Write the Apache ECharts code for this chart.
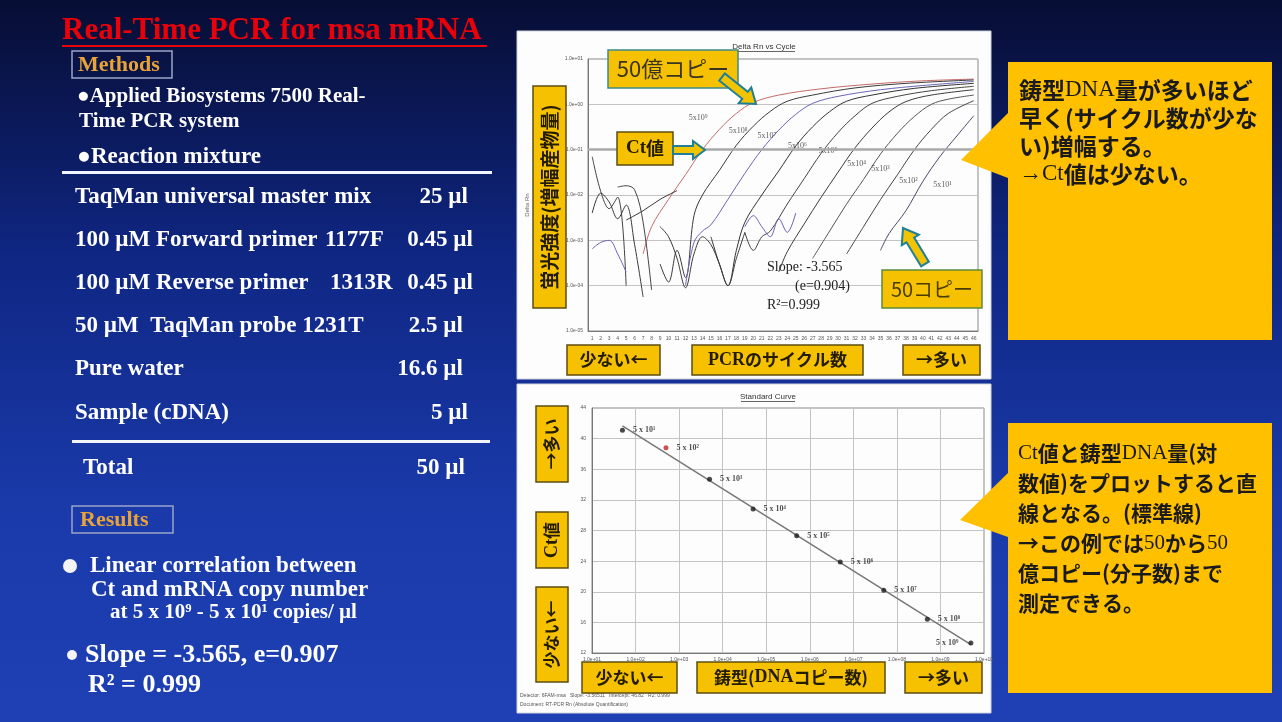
<!DOCTYPE html>
<html>
<head>
<meta charset="utf-8">
<script src="https://cdn.jsdelivr.net/npm/echarts@6/dist/echarts.min.js"></script>
<style>
html, body { margin: 0; padding: 0; background: #0b1240; }
#main { width: 1282px; height: 722px; }
</style>
</head>
<body>
<div id="main"></div>
<script>
// ---- amplification plot (Delta Rn vs Cycle) ----
var cycleLabels = [];
for (var i = 1; i <= 46; i++) cycleLabels.push(String(i));

var threshold = 0.1;
var yTickMin = 1e-5, yTickMax = 10;

// [cycle, delta Rn]
var curve5e9 = [[7,5e-4],[8,2.0e-3],[10,8.0e-3],[12,2.8e-2],[14,0.1],[16,0.28],[18,0.63],[20,1.1],[23,1.6],[28,2.2],[34,2.8],[40,3.3],[46,3.6]];
var curve5e8 = [[9,3e-4],[10,1.2e-4],[11,6e-4],[12,1.5e-4],[13,3.5e-3],[14,1e-2],[16,3.5e-2],[18,0.125],[20,0.33],[22,0.7],[24,1.17],[27,1.6],[32,2.3],[38,2.9],[46,3.45]];
var curve5e7 = [[12,1.0e-4],[13,9e-4],[14,1.6e-3],[15,2.2e-3],[17,8e-3],[19,3e-2],[21,0.1],[23,0.27],[25,0.6],[27,1.05],[30,1.5],[35,2.1],[40,2.6],[46,3.2]];
var curve5e6 = [[15,1.2e-3],[16,3e-4],[17,1e-4],[18,6e-4],[19,2.5e-3],[21,1e-2],[23,3.4e-2],[25,0.12],[27,0.32],[29,0.69],[31,1.17],[34,1.6],[39,2.25],[46,2.9]];
var curve5e5 = [[19,1.5e-3],[20,6e-4],[21,1.2e-3],[22,1.6e-3],[24,6.3e-3],[26,2.3e-2],[28,8.3e-2],[30,0.24],[32,0.56],[34,1.05],[37,1.5],[41,2.0],[46,2.5]];
var curve5e4 = [[23,2e-4],[24,5.6e-4],[26,2.3e-3],[28,8.9e-3],[30,3.2e-2],[32,0.11],[34,0.3],[36,0.68],[38,1.15],[41,1.6],[46,2.1]];
var curve5e3 = [[27,4e-4],[29,1.6e-3],[31,6.3e-3],[33,2.2e-2],[35,8e-2],[37,0.23],[39,0.54],[41,1.0],[43,1.3],[46,1.6]];
var curve5e2 = [[31,5e-4],[33,2e-3],[35,7.9e-3],[37,2.8e-2],[39,0.1],[41,0.28],[43,0.63],[46,1.2]];
var curve5e1 = [[35,6e-4],[36,1.4e-3],[38,4.5e-3],[40,2e-2],[42,7e-2],[44,0.2],[46,0.56]];
var noiseA = [[1,7e-2],[2,1.2e-2],[3,5e-3],[4,9e-3],[5,1e-4]];
var noiseB = [[1,6.5e-4],[2,9e-4],[3,1e-3],[4,5e-4],[5,2e-4]];
var noiseC = [[1,4e-3],[2,1.1e-2],[3,7e-3],[4,3e-3],[5,6e-3],[6,8e-4],[7,5.6e-5]];
var noiseD = [[5,2.8e-3],[7,4.5e-3],[9,8e-3],[11,1.25e-2]];
var noiseE = [[4,1.5e-2],[5,1.6e-2],[6,1.3e-2],[7,2.5e-3],[8,8e-5]];
var noiseF = [[9,2e-3],[10,1.2e-3],[11,4e-4],[12,9e-5],[13,5e-4],[14,1.2e-3],[15,8e-4],[16,3e-4],[17,1e-4],[18,4e-4],[19,1.5e-3]];
var noiseG = [[19,2e-3],[20,3.5e-3],[21,2e-3],[22,1.2e-3],[23,3e-3],[24,1.5e-3],[25,4e-3]];

var curves = [curve5e9, curve5e8, curve5e7, curve5e6, curve5e5, curve5e4, curve5e3, curve5e2, curve5e1, noiseA, noiseB, noiseC, noiseD, noiseE, noiseF, noiseG];
var curveColors = ['#c46a6a','#3a3a3a','#6a66b8','#333333','#444444','#3a3a3a','#555555','#444444','#4a4a6a','#444444','#6b62b5','#3a3a3a','#3a3a3a','#444444','#3a3a3a','#6b62b5'];

var copyLabels = ['5x10⁹','5x10⁸','5x10⁷','5x10⁶','5x10⁵','5x10⁴','5x10³','5x10²','5x10¹'];
var copyLabelPos = [[13.5,0.5],[18.2,0.26],[21.6,0.2],[25.2,0.12],[28.8,0.093],[32.2,0.048],[35.0,0.037],[38.3,0.02],[42.3,0.017]];

// ---- standard curve ----
var stdCopies = [5e1, 5e2, 5e3, 5e4, 5e5, 5e6, 5e7, 5e8, 5e9];
var stdCt = [41.1, 38.8, 34.7, 30.8, 27.3, 23.9, 20.2, 16.4, 13.3];
var stdLabels = ['5 x 10¹','5 x 10²','5 x 10³','5 x 10⁴','5 x 10⁵','5 x 10⁶','5 x 10⁷','5 x 10⁸','5 x 10⁹'];

// ---- slide texts ----
var reagentNames = ['TaqMan universal master mix','100 µM Forward primer','100 µM Reverse primer','50 µM  TaqMan probe 1231T','Pure water','Sample (cDNA)'];
var reagentCodes = ['','1177F','1313R','','',''];
var reagentVolumes = ['25 µl','0.45 µl','0.45 µl','2.5 µl','16.6 µl','5 µl'];

function expLabel(v) {
  var e = Math.round(Math.log(v) / Math.LN10);
  var a = Math.abs(e);
  return '1.0e' + (e < 0 ? '-' : '+') + (a < 10 ? '0' : '') + a;
}

// least squares of Ct on log10(copies)
var n = stdCopies.length, sx = 0, sy = 0, sxx = 0, sxy = 0;
for (var k = 0; k < n; k++) {
  var lx = Math.log(stdCopies[k]) / Math.LN10;
  sx += lx; sy += stdCt[k]; sxx += lx * lx; sxy += lx * stdCt[k];
}
var slope = (n * sxy - sx * sy) / (n * sxx - sx * sx);
var icpt = (sy - slope * sx) / n;
var fitLine = [stdCopies[0], stdCopies[n - 1]].map(function (c) {
  return [c, icpt + slope * Math.log(c) / Math.LN10];
});

var series = curves.map(function (c, idx) {
  var s = {
    type: 'line', xAxisIndex: 0, yAxisIndex: 0, data: c,
    smooth: 0.35, symbol: 'none', silent: true, z: 3,
    lineStyle: { width: 1, color: curveColors[idx] }
  };
  if (idx === 0) {
    s.markLine = {
      silent: true, symbol: 'none', label: { show: false },
      lineStyle: { color: '#a9a9a9', width: 2.5, type: 'solid' },
      data: [{ yAxis: threshold }]
    };
  }
  return s;
});

series.push({
  type: 'scatter', xAxisIndex: 0, yAxisIndex: 0, symbolSize: 0, silent: true, z: 4,
  data: copyLabelPos.map(function (p, i) { return { value: p, name: copyLabels[i] }; }),
  label: { show: true, position: 'inside', formatter: '{b}', fontSize: 8,
    fontFamily: 'Liberation Serif', color: '#333' }
});

series.push({
  type: 'line', xAxisIndex: 2, yAxisIndex: 1, data: fitLine, symbol: 'none', silent: true,
  lineStyle: { color: '#777', width: 1.5 }, z: 3
});

series.push({
  type: 'scatter', xAxisIndex: 2, yAxisIndex: 1, symbolSize: 5, silent: true, z: 4,
  data: stdCopies.map(function (c, i) {
    return {
      value: [c, stdCt[i]], name: stdLabels[i],
      itemStyle: { color: i === 1 ? '#c02828' : '#1a1a1a' },
      label: i === n - 1 ? { position: 'left', distance: 10 } : {}
    };
  }),
  label: { show: true, position: 'right', distance: 8, formatter: '{b}', fontSize: 8,
    fontFamily: 'Liberation Serif', fontWeight: 'bold', color: '#222' }
});

// ---- decorations ----
var SERIF = 'Liberation Serif';
var JP = 'Noto Sans CJK JP';
var YEL = '#f6c100';

function txt(x, y, s, size, o) {
  o = o || {};
  return {
    type: 'text', x: x, y: y, z: o.z || 50, rotation: o.rot || 0,
    style: {
      text: s, fill: o.fill || '#ffffff', fontSize: size,
      fontFamily: o.font || SERIF, fontWeight: o.weight || 'bold',
      align: o.align || 'left', verticalAlign: o.va || 'middle',
      rich: o.rich, lineHeight: o.lh
    }
  };
}
function box(x, y, w, h, s, size, o) {
  o = o || {};
  var els = [{
    type: 'rect', z: 60, shape: { x: x, y: y, width: w, height: h },
    style: { fill: YEL, stroke: o.stroke || '#5c4d10', lineWidth: 1.5 }
  }];
  els.push(txt(x + w / 2, y + h / 2, s, size, {
    z: 61, fill: o.fill || '#231c00', font: JP, weight: o.weight || 'bold',
    align: 'center', rot: o.rot, rich: o.rich
  }));
  return els;
}
function arrow(x1, y1, x2, y2, w, hw, hl) {
  var dx = x2 - x1, dy = y2 - y1, L = Math.sqrt(dx * dx + dy * dy);
  var ux = dx / L, uy = dy / L, px = -uy, py = ux;
  var bx = x2 - ux * hl, by = y2 - uy * hl;
  return {
    type: 'polygon', z: 62,
    shape: { points: [
      [x1 + px * w / 2, y1 + py * w / 2], [bx + px * w / 2, by + py * w / 2],
      [bx + px * hw / 2, by + py * hw / 2], [x2, y2],
      [bx - px * hw / 2, by - py * hw / 2], [bx - px * w / 2, by - py * w / 2],
      [x1 - px * w / 2, y1 - py * w / 2]] },
    style: { fill: '#f2c400', stroke: '#1f7f99', lineWidth: 2 }
  };
}
function serifRich(size) {
  return { l: { fontFamily: SERIF, fontWeight: 'bold', fontSize: size, fill: '#231c00' } };
}

var els = [];

// white panels
els.push({ type: 'rect', z: -10, shape: { x: 517, y: 31, width: 474, height: 348 },
  style: { fill: '#fdfdfd', stroke: '#cfd3dc', lineWidth: 1 } });
els.push({ type: 'rect', z: -10, shape: { x: 517, y: 384, width: 474, height: 329 },
  style: { fill: '#fdfdfd', stroke: '#cfd3dc', lineWidth: 1 } });

// left column
els.push(txt(62, 31, 'Real-Time PCR for msa mRNA', 31, { fill: '#e8000b' }));
els.push({ type: 'rect', z: 50, shape: { x: 62, y: 45, width: 425, height: 2 }, style: { fill: '#e8000b' } });
els.push({ type: 'rect', z: 50, shape: { x: 72, y: 51, width: 100, height: 27 },
  style: { fill: 'none', stroke: '#9aa4c8', lineWidth: 1.5 } });
els.push(txt(78, 65, 'Methods', 22, { fill: '#e8a23a' }));
els.push(txt(77, 97, '●Applied Biosystems 7500 Real-', 21));
els.push(txt(79, 122, 'Time PCR system', 21));
els.push(txt(77, 157, '●Reaction mixture', 23));
els.push({ type: 'rect', z: 50, shape: { x: 62, y: 171, width: 430, height: 3 }, style: { fill: '#f2f4ff' } });
var rowY = [197, 240, 283, 326, 369, 413];
var codeX = [0, 325, 330, 0, 0, 0];
var volX = [468, 473, 473, 463, 463, 468];
reagentNames.forEach(function (s, i) {
  els.push(txt(75, rowY[i], s, 23));
  if (reagentCodes[i]) els.push(txt(codeX[i], rowY[i], reagentCodes[i], 23));
  els.push(txt(volX[i], rowY[i], reagentVolumes[i], 23, { align: 'right' }));
});
els.push({ type: 'rect', z: 50, shape: { x: 72, y: 440, width: 418, height: 3 }, style: { fill: '#f2f4ff' } });
els.push(txt(83, 468, 'Total', 23));
els.push(txt(465, 468, '50 µl', 23, { align: 'right' }));
els.push({ type: 'rect', z: 50, shape: { x: 72, y: 506, width: 101, height: 27 },
  style: { fill: 'none', stroke: '#9aa4c8', lineWidth: 1.5 } });
els.push(txt(80, 520, 'Results', 22, { fill: '#e8a23a' }));
els.push({ type: 'circle', z: 50, shape: { cx: 70, cy: 566, r: 7 }, style: { fill: '#f4f4f4' } });
els.push(txt(90, 566, 'Linear correlation between', 23));
els.push(txt(91, 590, 'Ct and mRNA copy number', 23));
els.push(txt(110, 613, 'at 5 x 10⁹ - 5 x 10¹ copies/ µl', 21));
els.push({ type: 'circle', z: 50, shape: { cx: 72, cy: 655, r: 5 }, style: { fill: '#f4f4f4' } });
els.push(txt(85, 655, 'Slope = -3.565, e=0.907', 26));
els.push(txt(88, 685, 'R² = 0.999', 26));

// chart titles
els.push(txt(764, 47, 'Delta Rn vs Cycle', 8, { fill: '#333', weight: 'normal', align: 'center', font: 'Liberation Sans' }));
els.push({ type: 'rect', z: 50, shape: { x: 733, y: 51, width: 62, height: 0.8 }, style: { fill: '#333' } });
els.push(txt(768, 397, 'Standard Curve', 8, { fill: '#333', weight: 'normal', align: 'center', font: 'Liberation Sans' }));
els.push({ type: 'rect', z: 50, shape: { x: 741, y: 401, width: 54, height: 0.8 }, style: { fill: '#333' } });
els.push(txt(527, 205, 'Delta Rn', 6, { fill: '#666', weight: 'normal', align: 'center', rot: Math.PI / 2, font: 'Liberation Sans' }));

// top chart overlays
els = els.concat(box(533, 86, 33, 222, '蛍光強度(増幅産物量)', 19, { rot: Math.PI / 2 }));
els = els.concat(box(567, 345, 93, 30, '少ない←', 17));
els = els.concat(box(692, 345, 171, 30, '{l|PCR}のサイクル数', 17, { rich: serifRich(18) }));
els = els.concat(box(903, 345, 77, 30, '→多い', 17));
els = els.concat(box(608, 50, 130, 38, '50億コピー', 22, { weight: 'normal', fill: '#3a3520', stroke: '#3c8a8a' }));
els.push(arrow(722, 77, 756, 104, 9, 20, 14));
els = els.concat(box(617, 132, 56, 33, '{l|Ct}値', 18, { rich: serifRich(19) }));
els.push(arrow(673, 150, 705, 150, 8, 18, 12));
els.push(txt(767, 267, 'Slope: -3.565', 14, { fill: '#222', weight: 'normal' }));
els.push(txt(795, 286, '(e=0.904)', 14, { fill: '#222', weight: 'normal' }));
els.push(txt(767, 305, 'R²=0.999', 14, { fill: '#222', weight: 'normal' }));
els = els.concat(box(882, 270, 100, 38, '50コピー', 20, { weight: 'normal', fill: '#4a3c00', stroke: '#5d8a3a' }));
els.push(arrow(925, 264, 903, 228, 9, 20, 14));

// bottom chart overlays
els = els.concat(box(536, 406, 32, 76, '→多い', 17, { rot: Math.PI / 2 }));
els = els.concat(box(536, 512, 32, 56, '{l|Ct}値', 17, { rot: Math.PI / 2, rich: serifRich(18) }));
els = els.concat(box(536, 587, 32, 95, '少ない←', 17, { rot: Math.PI / 2 }));
els = els.concat(box(582, 662, 95, 31, '少ない←', 17));
els = els.concat(box(697, 662, 188, 31, '鋳型({l|DNA}コピー数)', 17, { rich: serifRich(18) }));
els = els.concat(box(905, 662, 77, 31, '→多い', 17));
els.push(txt(520, 696, 'Detector: 6FAM-msa   Slope: -3.56511   Intercept: 46.82   R2: 0.999', 5, { fill: '#555', weight: 'normal', font: 'Liberation Sans' }));
els.push(txt(520, 705, 'Document: RT-PCR Rn (Absolute Quantification)', 5, { fill: '#555', weight: 'normal', font: 'Liberation Sans' }));

// callouts
els.push({ type: 'polygon', z: 40,
  shape: { points: [[1008,62],[1272,62],[1272,340],[1008,340],[1008,178],[961,160],[1008,113]] },
  style: { fill: '#ffc000' } });
els.push(txt(1019, 76, '鋳型{l|DNA}量が多いほど\n早く(サイクル数が少な\nい)増幅する。\n{l|→Ct}値は少ない。', 23,
  { fill: '#1a1a1a', font: JP, va: 'top', lh: 28,
    rich: { l: { fontFamily: SERIF, fontWeight: 'normal', fontSize: 23, fill: '#1a1a1a' } } }));
els.push({ type: 'polygon', z: 40,
  shape: { points: [[1008,423],[1272,423],[1272,693],[1008,693],[1008,537],[960,520],[1008,473]] },
  style: { fill: '#ffc000' } });
els.push(txt(1018, 438, '{l|Ct}値と鋳型{l|DNA}量(対\n数値)をプロットすると直\n線となる。(標準線)\n→この例では{l|50}から{l|50}\n億コピー(分子数)まで\n測定できる。', 21,
  { fill: '#1a1a1a', font: JP, va: 'top', lh: 30,
    rich: { l: { fontFamily: SERIF, fontWeight: 'normal', fontSize: 21, fill: '#1a1a1a' } } }));

var tinyAxis = { fontSize: 5, color: '#555', fontFamily: 'Liberation Sans' };

var option = {
  animation: false,
  backgroundColor: new echarts.graphic.LinearGradient(0, 0, 0, 1, [
    { offset: 0, color: '#070d33' },
    { offset: 0.35, color: '#0f2682' },
    { offset: 0.7, color: '#1a3aaa' },
    { offset: 1, color: '#1e40b4' }
  ]),
  grid: [
    { left: 588, top: 59, width: 390, height: 272, show: true, borderColor: '#8a8a8a', borderWidth: 1 },
    { left: 592, top: 408, width: 392, height: 245, show: true, borderColor: '#8a8a8a', borderWidth: 1 }
  ],
  xAxis: [
    { type: 'value', gridIndex: 0, min: 0.5, max: 46.5, axisLabel: { show: false },
      axisTick: { show: false }, splitLine: { show: false }, axisLine: { lineStyle: { color: '#777' } } },
    { type: 'category', gridIndex: 0, data: cycleLabels, position: 'bottom',
      axisLabel: Object.assign({ interval: 0, margin: 5 }, tinyAxis),
      axisTick: { show: false }, axisLine: { show: false } },
    { type: 'log', gridIndex: 1, min: 10, max: 1e10, logBase: 10, splitNumber: 9,
      axisLabel: Object.assign({ formatter: expLabel, margin: 4 }, tinyAxis),
      axisTick: { show: false }, axisLine: { lineStyle: { color: '#777' } },
      splitLine: { show: true, lineStyle: { color: '#c4c4c4' } } }
  ],
  yAxis: [
    { type: 'log', gridIndex: 0, min: yTickMin, max: yTickMax, logBase: 10, splitNumber: 6,
      axisLabel: Object.assign({ formatter: expLabel, margin: 5 }, tinyAxis),
      axisTick: { show: false }, axisLine: { show: true, lineStyle: { color: '#777' } },
      splitLine: { show: true, lineStyle: { color: '#c4c4c4' } } },
    { type: 'value', gridIndex: 1, min: 12, max: 44, interval: 4,
      axisLabel: Object.assign({ margin: 6 }, tinyAxis),
      axisTick: { show: false }, axisLine: { show: true, lineStyle: { color: '#777' } },
      splitLine: { show: true, lineStyle: { color: '#c4c4c4' } } }
  ],
  series: series,
  graphic: { elements: els }
};

var chart = echarts.init(document.getElementById('main'));
chart.setOption(option);
</script>
</body>
</html>
